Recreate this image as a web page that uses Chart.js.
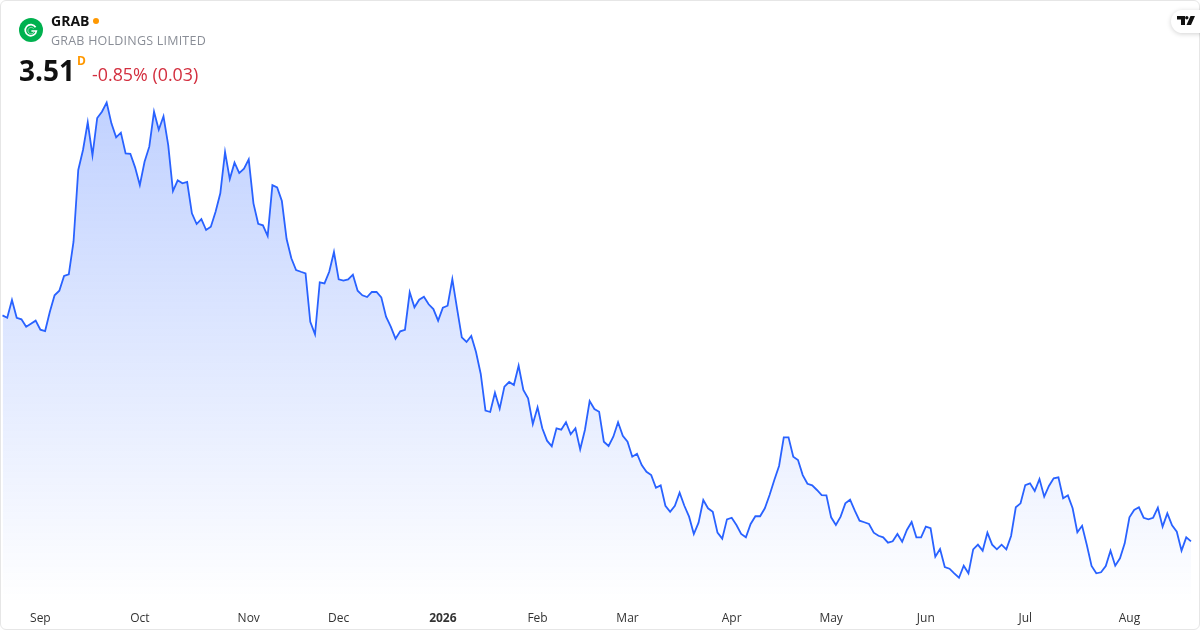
<!DOCTYPE html>
<html><head><meta charset="utf-8">
<style>
html,body{margin:0;padding:0;background:#fff;width:1200px;height:630px;overflow:hidden;font-family:"Open Sans",sans-serif}
#card{position:absolute;left:0;top:0;width:1198px;height:628px;border:1px solid #e6e6e6;border-radius:6px;background:#fff}
canvas{position:absolute;left:0;top:0}
.t{position:absolute;white-space:nowrap;line-height:1}
#logo{position:absolute;left:19px;top:18px;width:24px;height:24px}
#tv{position:absolute;left:1171px;top:10px;width:40px;height:23px;background:#fff;border-radius:12px;box-shadow:0 1px 5px rgba(0,0,0,.18)}
#clip{position:absolute;left:0;top:0;width:1200px;height:630px;overflow:hidden}
</style></head><body>
<div id="card"></div>
<canvas id="c" width="1200" height="630" style="width:1200px;height:630px"></canvas>
<div class="t" style="left:51px;top:14px;font-size:14px;font-weight:700;color:#111">GRAB</div>
<div style="position:absolute;left:93px;top:18px;width:6px;height:6px;border-radius:50%;background:#ff9800"></div>
<div class="t" style="left:51px;top:35px;font-size:12.5px;letter-spacing:.22px;color:#8a8e97">GRAB HOLDINGS LIMITED</div>
<div class="t" style="left:19px;top:56px;font-size:28px;font-weight:700;color:#111">3.51</div>
<div class="t" style="left:77px;top:55px;font-size:12px;font-weight:700;color:#ff9800">D</div>
<div class="t" style="left:92px;top:66px;font-size:17.85px;color:#d32f3f">-0.85% (0.03)</div>
<svg id="logo" viewBox="0 0 24 24"><circle cx="12" cy="12" r="12" fill="#00b14f"/><path d="M16.6 9.2A5.6 5.6 0 1 0 17.4 13H12.4" fill="none" stroke="#fff" stroke-width="1.7"/><path d="M14.6 10.6A3.2 3.2 0 1 0 15 14" fill="none" stroke="#ffffff" stroke-opacity=".65" stroke-width="0.8"/></svg>
<div id="clip"><div id="tv"><svg style="position:absolute;left:6px;top:6px" width="18" height="9" viewBox="0 0 18 9"><path d="M0 0H8V9H4V3.4H0Z M9.8 0a1.7 1.7 0 1 1 0 3.4a1.7 1.7 0 0 1 0-3.4Z M13.5 0H18L14 9H9.5Z" fill="#111"/></svg></div></div>
<script src="https://cdn.jsdelivr.net/npm/chart.js@4"></script>
<script>
const closes = [
5.205,5.187,5.32,5.187,5.175,5.12,5.142,5.165,5.097,5.087,
5.232,5.355,5.39,5.5,5.513,5.757,6.295,6.445,6.653,6.405,
6.685,6.732,6.8,6.645,6.54,6.575,6.42,6.417,6.315,6.182,
6.357,6.47,6.732,6.597,6.698,6.482,6.137,6.218,6.195,6.205,
5.97,5.89,5.927,5.845,5.87,5.982,6.12,6.43,6.227,6.35,
6.272,6.305,6.375,6.045,5.892,5.88,5.8,6.182,6.165,6.062,
5.777,5.633,5.545,5.532,5.52,5.157,5.063,5.453,5.445,5.532,
5.68,5.475,5.465,5.475,5.51,5.39,5.355,5.342,5.38,5.38,
5.34,5.195,5.12,5.03,5.085,5.097,5.378,5.265,5.322,5.345,
5.288,5.252,5.165,5.262,5.277,5.477,5.255,5.04,5.005,5.05,
4.93,4.765,4.49,4.48,4.625,4.505,4.67,4.705,4.682,4.827,
4.645,4.583,4.39,4.515,4.358,4.265,4.223,4.358,4.347,4.403,
4.313,4.358,4.2,4.345,4.562,4.502,4.482,4.257,4.225,4.295,
4.403,4.302,4.257,4.145,4.167,4.082,4.032,4.007,3.912,3.93,
3.777,3.732,3.777,3.875,3.777,3.695,3.565,3.65,3.82,3.758,
3.732,3.575,3.53,3.675,3.687,3.632,3.565,3.54,3.64,3.698,
3.698,3.758,3.857,3.97,4.075,4.29,4.29,4.145,4.12,4.007,
3.942,3.93,3.895,3.857,3.855,3.69,3.632,3.695,3.795,3.822,
3.74,3.665,3.653,3.64,3.575,3.552,3.54,3.5,3.51,3.565,
3.507,3.595,3.655,3.54,3.54,3.62,3.608,3.395,3.452,3.317,
3.305,3.27,3.237,3.327,3.27,3.45,3.485,3.44,3.575,3.485,
3.45,3.485,3.45,3.55,3.765,3.795,3.932,3.945,3.887,3.977,
3.845,3.925,3.983,3.99,3.833,3.855,3.758,3.578,3.627,3.482,
3.325,3.27,3.278,3.325,3.44,3.327,3.383,3.495,3.69,3.745,
3.765,3.687,3.675,3.687,3.762,3.62,3.72,3.63,3.582,3.44,
3.54,3.51];
const monthTickIndex = [8,29,52,71,93,113,132,154,175,195,216,238];
const monthTickLabels = ["Sep","Oct","Nov","Dec","2026","Feb","Mar","Apr","May","Jun","Jul","Aug"];
const categories = closes.map((_, i) => {
  const k = monthTickIndex.indexOf(i);
  return k >= 0 ? monthTickLabels[k] : "";
});
const ctx = document.getElementById('c').getContext('2d');
const grad = ctx.createLinearGradient(0, 102, 0, 604);
grad.addColorStop(0, 'rgba(41,98,255,0.29)');
grad.addColorStop(1, 'rgba(41,98,255,0)');
new Chart(ctx, {
  type: 'line',
  data: { labels: categories, datasets: [{
    data: closes, borderColor: '#2962ff', borderWidth: 1.8, backgroundColor: grad,
    fill: 'start', pointRadius: 0, tension: 0, borderJoinStyle: 'miter'
  }]},
  options: {
    responsive: false, animation: false, devicePixelRatio: 1,
    layout: { padding: { left: 2.5, right: 9, top: 90, bottom: 0 } },
    plugins: { legend: { display: false }, tooltip: { enabled: false } },
    scales: {
      y: { display: false, min: 3.07, max: 6.895 },
      x: {
        afterFit(s) { s.height = 30; s.paddingLeft = 0; s.paddingRight = 0; },
        grid: { display: false }, border: { display: false },
        ticks: {
          autoSkip: false, maxRotation: 0, minRotation: 0, padding: 3, color: '#333',
          callback(v, i) { return categories[i]; },
          font: c => ({ family: '"Open Sans"', size: 12, weight: categories[c.index] === '2026' ? '700' : '400' })
        }
      }
    }
  }
});
</script>
</body></html>
